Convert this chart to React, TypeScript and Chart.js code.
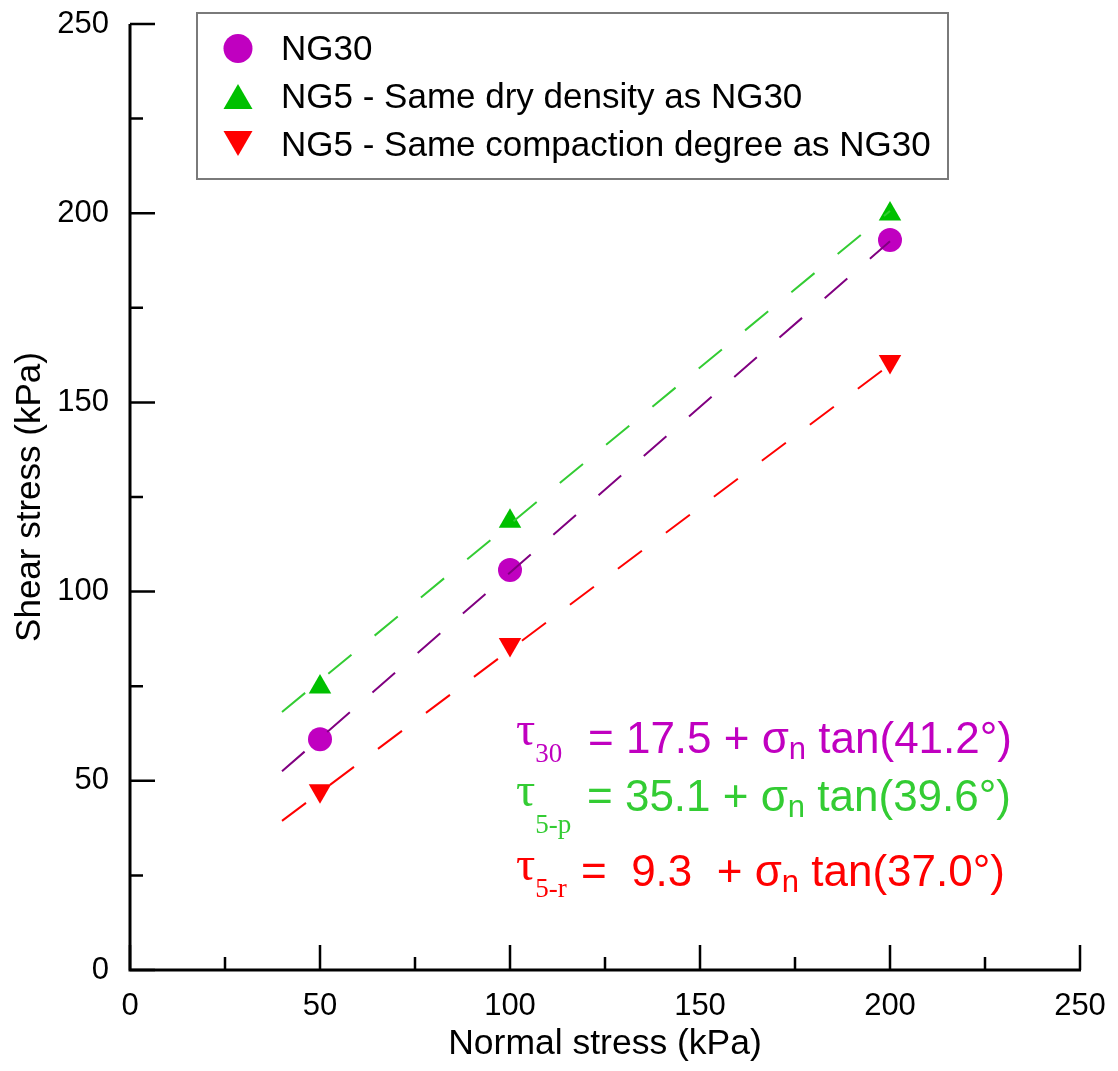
import React, { useEffect, useRef } from "react";
import { Chart, registerables } from "chart.js";

Chart.register(...registerables);

// ---- data ----
const normalStress = [50, 100, 200];
const ng30Shear = [61.0, 105.7, 192.9];
const ng5DryShear = [74.8, 118.6, 199.8];
const ng5CompShear = [47.4, 86.0, 160.8];

const fitRange = [40, 200];
const ng30Fit = [52.5, 192.6];
const ng5DryFit = [68.2, 200.6];
const ng5CompFit = [39.4, 160.0];

const seriesLabels = [
  "NG30",
  "NG5 - Same dry density as NG30",
  "NG5 - Same compaction degree as NG30",
];
const seriesColors = ["#c000c0", "#00c000", "#ff0000"];
const fitColors = ["#800080", "#33cc33", "#ff0000"];

const majorTicks = [0, 50, 100, 150, 200, 250];
const minorTicks = [25, 75, 125, 175, 225];

const eqSubscripts = ["30", "5-p", "5-r"];
const eqIntercepts = ["17.5", "35.1", " 9.3 "];
const eqAngles = ["41.2", "39.6", "37.0"];
const eqColors = ["#c000c0", "#33cc33", "#ff0000"];

const SANS = "'Liberation Sans', Arial, sans-serif";
const SERIF = "'Liberation Serif', 'Times New Roman', serif";

const toPoints = (xs: number[], ys: number[]) => xs.map((x, i) => ({ x, y: ys[i] }));

const eqLayout = [
  { tauX: 516, tauY: 745, subY: 762, eqX: 588, y: 753 },
  { tauX: 516, tauY: 806, subY: 833, eqX: 587, y: 811 },
  { tauX: 516, tauY: 880, subY: 897, eqX: 581, y: 886 },
];

const overlayPlugin = {
  id: "overlay",
  beforeDatasetsDraw(chart: any) {
    const { ctx, chartArea, scales } = chart;
    const xs = scales.x;
    const ys = scales.y;
    ctx.save();
    ctx.strokeStyle = "#000";
    ctx.lineCap = "butt";
    ctx.lineWidth = 3;
    ctx.beginPath();
    ctx.moveTo(chartArea.left, chartArea.top);
    ctx.lineTo(chartArea.left, chartArea.bottom);
    ctx.lineTo(chartArea.right + 1, chartArea.bottom);
    ctx.stroke();
    ctx.lineWidth = 2.5;
    ctx.beginPath();
    const tickX = (v: number, len: number) => {
      const px = xs.getPixelForValue(v);
      ctx.moveTo(px, chartArea.bottom);
      ctx.lineTo(px, chartArea.bottom - len);
    };
    const tickY = (v: number, len: number) => {
      const py = ys.getPixelForValue(v);
      ctx.moveTo(chartArea.left, py);
      ctx.lineTo(chartArea.left + len, py);
    };
    majorTicks.forEach((v) => { tickX(v, 25); tickY(v, 25); });
    minorTicks.forEach((v) => { tickX(v, 13); tickY(v, 13); });
    ctx.stroke();
    ctx.restore();
  },
  afterDraw(chart: any) {
    const { ctx } = chart;
    ctx.save();
    // legend box
    ctx.strokeStyle = "#7a7a7a";
    ctx.lineWidth = 2;
    ctx.strokeRect(197, 13, 751, 166);
    const baselines = [60, 108, 156];
    const mx = 238;
    ctx.fillStyle = seriesColors[0];
    ctx.beginPath();
    ctx.arc(mx, 48.5, 14.5, 0, Math.PI * 2);
    ctx.fill();
    ctx.fillStyle = seriesColors[1];
    ctx.beginPath();
    ctx.moveTo(mx, 84);
    ctx.lineTo(mx + 14.5, 109);
    ctx.lineTo(mx - 14.5, 109);
    ctx.closePath();
    ctx.fill();
    ctx.fillStyle = seriesColors[2];
    ctx.beginPath();
    ctx.moveTo(mx - 14.5, 131);
    ctx.lineTo(mx + 14.5, 131);
    ctx.lineTo(mx, 156);
    ctx.closePath();
    ctx.fill();
    ctx.fillStyle = "#000";
    ctx.font = `35px ${SANS}`;
    ctx.textBaseline = "alphabetic";
    ctx.textAlign = "left";
    seriesLabels.forEach((t, i) => ctx.fillText(t, 281, baselines[i]));

    // equations
    eqLayout.forEach((L, i) => {
      ctx.fillStyle = eqColors[i];
      ctx.font = `48px ${SERIF}`;
      ctx.fillText("\u03C4", L.tauX, L.tauY);
      const tw = ctx.measureText("\u03C4").width;
      ctx.font = `27px ${SERIF}`;
      ctx.fillText(eqSubscripts[i], L.tauX + tw, L.subY);
      let x = L.eqX;
      ctx.font = `44px ${SANS}`;
      const head = `= ${eqIntercepts[i]} + `;
      ctx.fillText(head, x, L.y);
      x += ctx.measureText(head).width;
      ctx.fillText("\u03C3", x, L.y);
      x += ctx.measureText("\u03C3").width;
      ctx.font = `31px ${SANS}`;
      ctx.fillText("n", x, L.y + 6);
      x += ctx.measureText("n").width;
      ctx.font = `44px ${SANS}`;
      ctx.fillText(` tan(${eqAngles[i]}\u00B0)`, x, L.y);
    });
    ctx.restore();
  },
};

export default function App() {
  const canvasRef = useRef<HTMLCanvasElement | null>(null);

  useEffect(() => {
    if (!canvasRef.current) return;
    Chart.defaults.font.family = SANS;
    const fitDataset = (vals: number[], color: string, label: string) => ({
      label,
      data: toPoints(fitRange, vals),
      showLine: true,
      borderColor: color,
      borderWidth: 2,
      borderDash: [30, 30],
      pointRadius: 0,
      fill: false,
      order: 0,
    });
    const chart = new Chart(canvasRef.current, {
      type: "scatter",
      data: {
        datasets: [
          fitDataset(ng30Fit, fitColors[0], "NG30 fit"),
          fitDataset(ng5DryFit, fitColors[1], "NG5 dry fit"),
          fitDataset(ng5CompFit, fitColors[2], "NG5 comp fit"),
          {
            label: seriesLabels[0],
            data: toPoints(normalStress, ng30Shear),
            pointStyle: "circle",
            pointRadius: 12,
            pointBackgroundColor: seriesColors[0],
            pointBorderWidth: 0,
            order: 1,
          },
          {
            label: seriesLabels[1],
            data: toPoints(normalStress, ng5DryShear),
            pointStyle: "triangle",
            pointRadius: 13,
            pointBackgroundColor: seriesColors[1],
            pointBorderWidth: 0,
            order: 1,
          },
          {
            label: seriesLabels[2],
            data: toPoints(normalStress, ng5CompShear),
            pointStyle: "triangle",
            pointRotation: 180,
            pointRadius: 13,
            pointBackgroundColor: seriesColors[2],
            pointBorderWidth: 0,
            order: 1,
          },
        ] as any,
      },
      options: {
        animation: false,
        responsive: false,
        layout: { padding: { left: 0, top: 24, right: 38, bottom: 0 } },
        plugins: { legend: { display: false }, tooltip: { enabled: false } },
        scales: {
          x: {
            type: "linear",
            min: 0,
            max: 250,
            ticks: { stepSize: 50, color: "#000", font: { size: 31 }, padding: 18 },
            grid: { display: false, drawTicks: false },
            border: { display: false },
            title: {
              display: true,
              text: "Normal stress (kPa)",
              color: "#000",
              font: { size: 35.5 },
              padding: { top: 0, bottom: 5 },
            },
            afterFit: (s: any) => {
              s.height = 101;
              s.paddingLeft = 0;
              s.paddingRight = 0;
            },
          },
          y: {
            type: "linear",
            min: 0,
            max: 250,
            ticks: { stepSize: 50, color: "#000", font: { size: 31 }, padding: 21 },
            grid: { display: false, drawTicks: false },
            border: { display: false },
            title: {
              display: true,
              text: "Shear stress (kPa)",
              color: "#000",
              font: { size: 35 },
              padding: { top: 9, bottom: 0 },
            },
            afterFit: (s: any) => {
              s.width = 130;
              s.paddingTop = 0;
              s.paddingBottom = 0;
            },
          },
        },
      } as any,
      plugins: [overlayPlugin],
    });
    return () => chart.destroy();
  }, []);

  return (
    <div style={{ position: "absolute", left: 0, top: 0, width: 1118, height: 1071, background: "#fff" }}>
      <canvas ref={canvasRef} width={1118} height={1071} style={{ display: "block" }} />
    </div>
  );
}
